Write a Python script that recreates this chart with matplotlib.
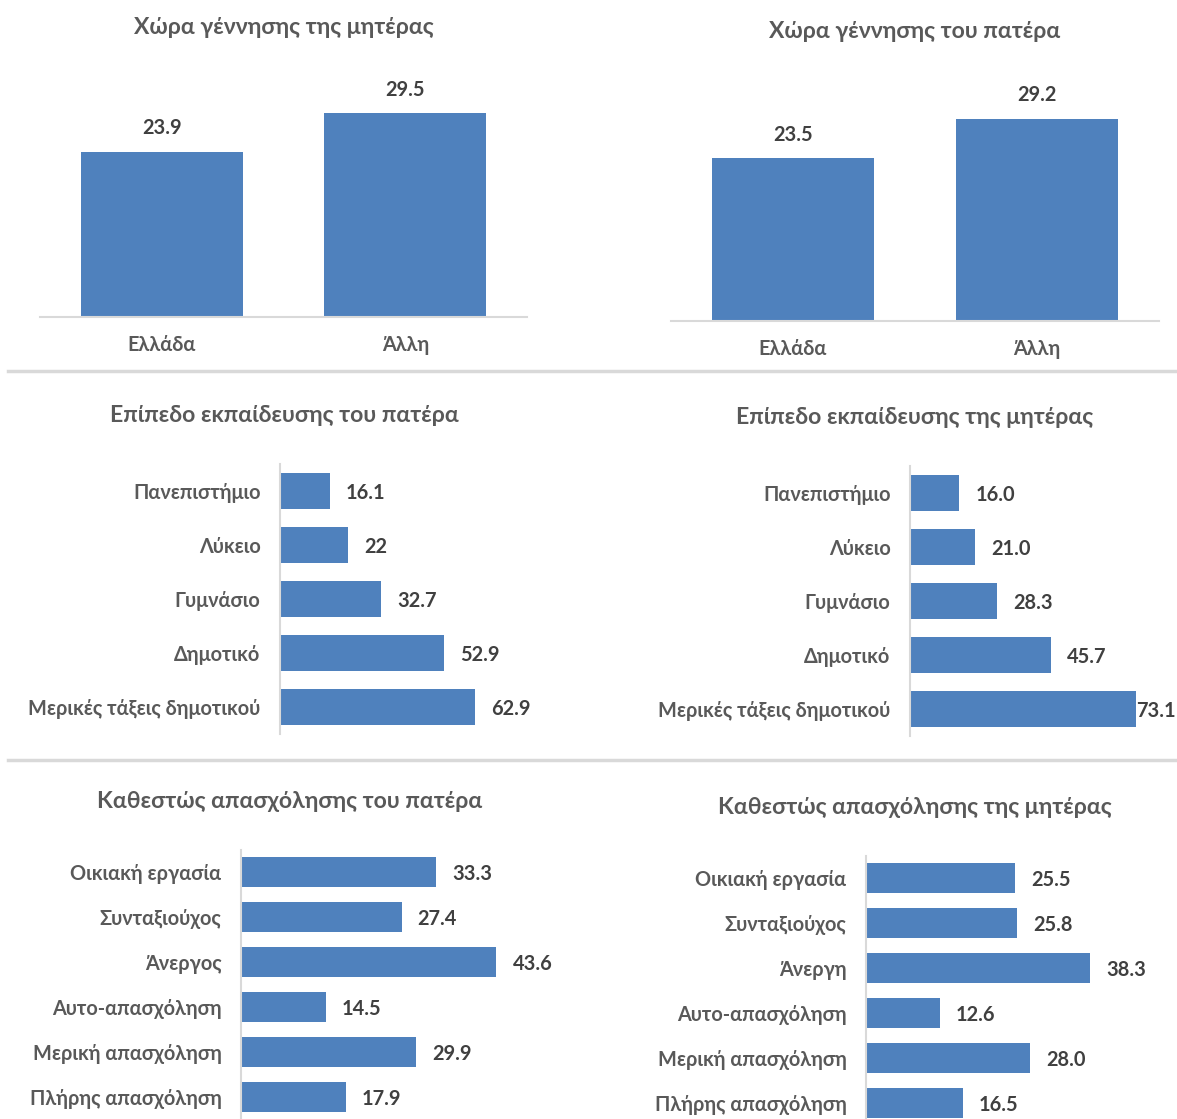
import matplotlib
matplotlib.use("Agg")
import matplotlib.pyplot as plt
from matplotlib.lines import Line2D

plt.rcParams['font.family'] = ['Lato', 'DejaVu Sans']

W, H = 1177, 1119
BLUE = '#4F81BD'
GRID = '#D9D9D9'
LABEL = '#595959'
VALUE = '#404040'
TITLE_FS, TICK_FS, VALUE_FS = 16.6, 14.3, 14.4

# birthplace of parents
birth_cats = ['Ελλάδα', 'Άλλη']
birth_mother = [23.9, 29.5]
birth_father = [23.5, 29.2]

# education level of parents
edu_cats = ['Πανεπιστήμιο', 'Λύκειο', 'Γυμνάσιο', 'Δημοτικό', 'Μερικές τάξεις δημοτικού']
edu_father = [16.1, 22, 32.7, 52.9, 62.9]
edu_father_txt = ['16.1', '22', '32.7', '52.9', '62.9']
edu_mother = [16.0, 21.0, 28.3, 45.7, 73.1]
edu_mother_txt = ['16.0', '21.0', '28.3', '45.7', '73.1']

# employment status of parents
job_cats_f = ['Οικιακή εργασία', 'Συνταξιούχος', 'Άνεργος', 'Αυτο-απασχόληση',
              'Μερική απασχόληση', 'Πλήρης απασχόληση']
job_cats_m = ['Οικιακή εργασία', 'Συνταξιούχος', 'Άνεργη', 'Αυτο-απασχόληση',
              'Μερική απασχόληση', 'Πλήρης απασχόληση']
job_father = [33.3, 27.4, 43.6, 14.5, 29.9, 17.9]
job_mother = [25.5, 25.8, 38.3, 12.6, 28.0, 16.5]

titles = ['Χώρα γέννησης της μητέρας', 'Χώρα γέννησης του πατέρα',
          'Επίπεδο εκπαίδευσης του πατέρα', 'Επίπεδο εκπαίδευσης της μητέρας',
          'Καθεστώς απασχόλησης του πατέρα', 'Καθεστώς απασχόλησης της μητέρας']

fig = plt.figure(figsize=(W / 100, H / 100), dpi=100)


def px_axes(x0, y0, x1, y1):
    # axes placed in pixel coordinates measured from the top-left corner
    return fig.add_axes([x0 / W, 1 - y1 / H, (x1 - x0) / W, (y1 - y0) / H])


def clean(ax):
    for s in ax.spines.values():
        s.set_visible(False)
    ax.tick_params(length=0)


value_texts = []


def column_panel(box, cats, vals, scale, title, tpos):
    x0, y0, x1, y1 = box
    ax = px_axes(x0, y0, x1, y1)
    ax.bar(range(len(cats)), vals, width=0.665, color=BLUE)
    ax.set_xlim(-0.5, 1.5)
    ax.set_ylim(0, (y1 - y0) / scale)
    clean(ax)
    ax.spines['bottom'].set_visible(True)
    ax.spines['bottom'].set_color(GRID)
    ax.spines['bottom'].set_linewidth(1.5)
    ax.set_xticks(range(len(cats)))
    ax.set_xticklabels(cats, fontsize=TICK_FS, fontweight='bold', color=LABEL)
    ax.tick_params(axis='x', pad=13)
    ax.set_yticks([])
    for i, v in enumerate(vals):
        ax.annotate(f'{v:.1f}', (i, v), xytext=(0, 17), textcoords='offset points',
                    ha='center', va='center', fontsize=VALUE_FS, fontweight='bold', color=VALUE)
    fig.text(tpos[0] / W, 1 - tpos[1] / H, title, ha='center', va='center',
             fontsize=TITLE_FS, fontweight='bold', color=LABEL)
    return ax


def bar_panel(box, cats, vals, txts, scale, title, tpos):
    x0, y0, x1, y1 = box
    ax = px_axes(x0, y0, x1, y1)
    pos = range(len(cats))
    ax.barh(pos, vals, height=0.667, color=BLUE)
    ax.set_ylim(len(cats) - 0.5, -0.5)
    ax.set_xlim(0, (x1 - x0) / scale)
    clean(ax)
    ax.spines['left'].set_visible(True)
    ax.spines['left'].set_color(GRID)
    ax.spines['left'].set_linewidth(1.5)
    ax.set_yticks(list(pos))
    ax.set_yticklabels(cats, fontsize=TICK_FS, fontweight='bold', color=LABEL)
    ax.tick_params(axis='y', pad=14)
    ax.set_xticks([])
    for i, (v, t) in enumerate(zip(vals, txts)):
        tx = ax.annotate(t, (v, i), xytext=(11.5, -1.5), textcoords='offset points',
                         ha='left', va='center', fontsize=VALUE_FS, fontweight='bold',
                         color=VALUE, annotation_clip=False)
        value_texts.append(tx)
    fig.text(tpos[0] / W, 1 - tpos[1] / H, title, ha='center', va='center',
             fontsize=TITLE_FS, fontweight='bold', color=LABEL)
    return ax


column_panel((40, 60, 527, 317), birth_cats, birth_mother, 6.91, titles[0], (284, 27))
column_panel((671, 64, 1159, 321), birth_cats, birth_father, 6.93, titles[1], (915, 31))

bar_panel((280, 464, 580, 734), edu_cats, edu_father, edu_father_txt, 3.1, titles[2], (284, 416))
bar_panel((910, 466, 1177, 736), edu_cats, edu_mother, edu_mother_txt, 3.09, titles[3], (915, 418))

bar_panel((241, 849.5, 580, 1119.5), job_cats_f, job_father,
          [f'{v:.1f}' for v in job_father], 5.86, titles[4], (290, 802))
bar_panel((866, 855.5, 1177, 1125.5), job_cats_m, job_mother,
          [f'{v:.1f}' for v in job_mother], 5.85, titles[5], (915, 808))

# grey rules between the rows of charts
for yy in (371, 760):
    fig.add_artist(Line2D([8 / W, 1], [1 - yy / H, 1 - yy / H], color=GRID, lw=2.5))

# keep value labels inside the figure
fig.canvas.draw()
r = fig.canvas.get_renderer()
for tx in value_texts:
    bb = tx.get_window_extent(r)
    if bb.x1 > W:
        dx, dy = tx.xyann
        tx.xyann = (dx - (bb.x1 - W + 1) * 72 / 100, dy)

fig.savefig('out.png', dpi=100)
